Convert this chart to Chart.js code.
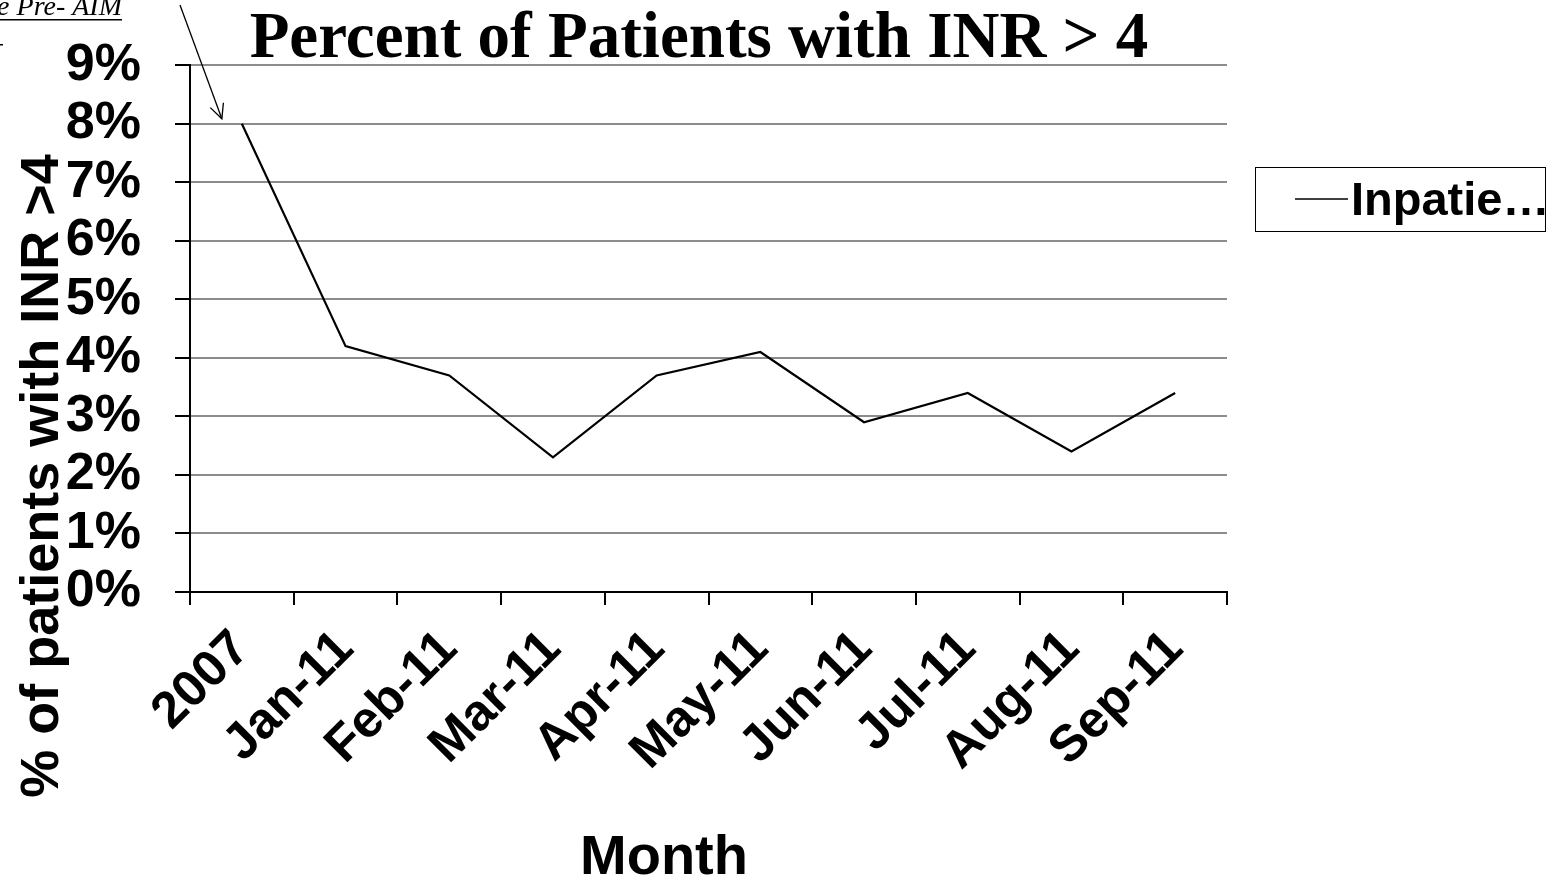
<!DOCTYPE html>
<html>
<head>
<meta charset="utf-8">
<script src="https://cdn.jsdelivr.net/npm/chart.js@4/dist/chart.umd.min.js"></script>
<style>
html,body{margin:0;padding:0;background:#fff;}
#wrap{position:relative;width:1567px;height:877px;}
</style>
</head>
<body>
<div id="wrap"><canvas id="c" width="1567" height="877"></canvas></div>
<script>
const categories = ["2007","Jan-11","Feb-11","Mar-11","Apr-11","May-11","Jun-11","Jul-11","Aug-11","Sep-11"];
const inpatientValues = [8.0, 4.2, 3.7, 2.3, 3.7, 4.1, 2.9, 3.4, 2.4, 3.4];
const seriesName = "Inpatient";
const legendLabel = "Inpatie…";
const yTicks = [0,1,2,3,4,5,6,7,8,9];
const chartTitle = "Percent of Patients with INR > 4";
const yTitle = "% of patients with INR >4";
const xTitle = "Month";
const annotationText = "e Pre- AIM";

const overlay = {
  id: 'overlay',
  afterDraw(chart) {
    const ctx = chart.ctx;
    const x = chart.scales.x, y = chart.scales.y;
    ctx.save();
    // title
    ctx.fillStyle = '#000';
    ctx.font = 'bold 65px "Liberation Serif", "Times New Roman", serif';
    ctx.textAlign = 'center';
    ctx.textBaseline = 'alphabetic';
    ctx.fillText(chartTitle, 699, 57);
    // y title
    ctx.save();
    ctx.translate(58, 476);
    ctx.rotate(-Math.PI/2);
    ctx.font = 'bold 54px "Liberation Sans", Arial, sans-serif';
    ctx.textAlign = 'center';
    ctx.fillText(yTitle, 0, 0);
    ctx.restore();
    // x title
    ctx.font = 'bold 56px "Liberation Sans", Arial, sans-serif';
    ctx.textAlign = 'center';
    ctx.fillText(xTitle, 664, 874);
    // annotation
    ctx.font = 'italic 28px "Liberation Serif", "Times New Roman", serif';
    ctx.textAlign = 'right';
    ctx.fillText(annotationText, 122, 15);
    const w = ctx.measureText(annotationText).width;
    ctx.fillRect(122 - w, 19, w, 1.5);
    ctx.fillRect(0, 44, 3, 1.5);
    // arrow to first point
    const px = x.getPixelForValue(0) - 20, py = y.getPixelForValue(inpatientValues[0]) - 5;
    const sx = 180, sy = 5;
    ctx.strokeStyle = '#000';
    ctx.lineWidth = 1.3;
    ctx.beginPath(); ctx.moveTo(sx, sy); ctx.lineTo(px, py); ctx.stroke();
    const ang = Math.atan2(py - sy, px - sx);
    ctx.beginPath();
    ctx.moveTo(px - 16*Math.cos(ang - 0.45), py - 16*Math.sin(ang - 0.45));
    ctx.lineTo(px, py);
    ctx.lineTo(px - 16*Math.cos(ang + 0.45), py - 16*Math.sin(ang + 0.45));
    ctx.stroke();
    // legend
    ctx.strokeStyle = '#000';
    ctx.lineWidth = 1;
    ctx.strokeRect(1255.5, 167.5, 290, 64);
    ctx.lineWidth = 1.5;
    ctx.beginPath(); ctx.moveTo(1295, 199); ctx.lineTo(1348, 199); ctx.stroke();
    ctx.font = 'bold 47px "Liberation Sans", Arial, sans-serif';
    ctx.textAlign = 'left';
    ctx.textBaseline = 'alphabetic';
    ctx.fillText(legendLabel, 1351, 215);
    ctx.restore();
  }
};

new Chart(document.getElementById('c'), {
  type: 'line',
  data: {
    labels: categories,
    datasets: [{
      label: seriesName,
      data: inpatientValues,
      borderColor: '#000',
      borderWidth: 2.2,
      pointRadius: 0,
      tension: 0,
      fill: false
    }]
  },
  options: {
    responsive: false,
    animation: false,
    devicePixelRatio: 1,
    layout: { padding: { left: 0, right: 340, top: 65, bottom: 0 } },
    plugins: { legend: { display: false }, title: { display: false }, tooltip: { enabled: false } },
    scales: {
      x: {
        offset: true,
        afterFit(s) { s.height = 285; },
        grid: { offset: true, drawOnChartArea: false, tickLength: 13, color: '#000', tickColor: '#000', lineWidth: 2 },
        border: { color: '#000', width: 2 },
        ticks: {
          color: '#000',
          font: { family: '"Liberation Sans", Arial, sans-serif', size: 51, weight: 'bold' },
          maxRotation: 45, minRotation: 45, padding: 14, autoSkip: false
        }
      },
      y: {
        min: 0, max: 9,
        afterFit(s) { s.width = 190; },
        afterBuildTicks(s) { s.ticks = yTicks.map(v => ({ value: v })); },
        grid: { color: '#8c8c8c', lineWidth: 2, tickLength: 15, tickColor: '#000' },
        border: { color: '#000', width: 2 },
        ticks: {
          color: '#000',
          autoSkip: false,
          font: { family: '"Liberation Sans", Arial, sans-serif', size: 52, weight: 'bold' },
          padding: 34,
          callback: v => v + '%'
        }
      }
    }
  },
  plugins: [overlay]
});
</script>
</body>
</html>
